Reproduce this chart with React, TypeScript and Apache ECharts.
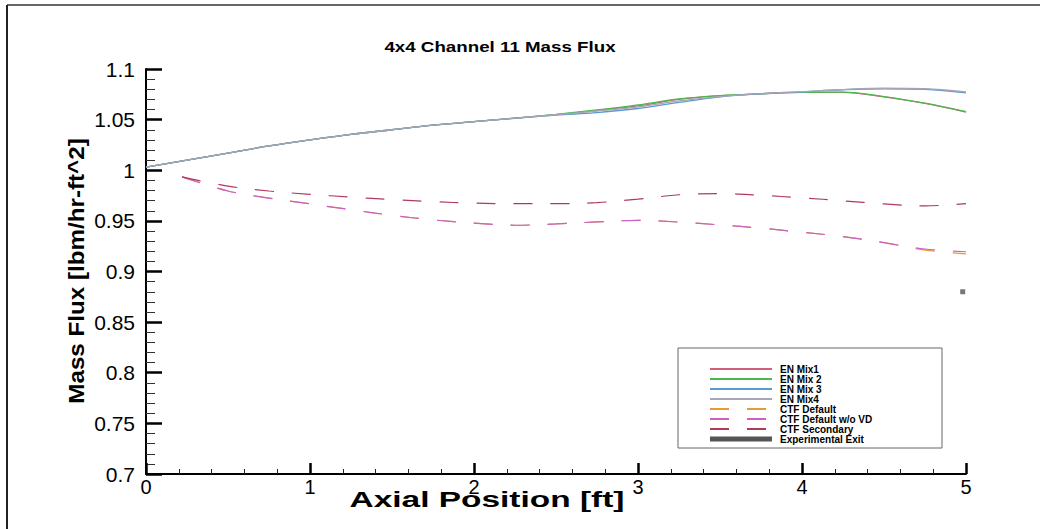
import React, { useEffect, useRef } from "react";
import * as echarts from "echarts";

const titleText = "4x4 Channel 11 Mass Flux";
const xName = "Axial Position [ft]";
const yName = "Mass Flux [lbm/hr-ft^2]";

const enX = [0, 0.25, 0.5, 0.75, 1, 1.25, 1.5, 1.75, 2, 2.25, 2.5, 2.75, 3, 3.25, 3.5, 3.75, 4, 4.25, 4.5, 4.75, 5];
const enMix1 = [1.003, 1.0100, 1.0170, 1.0240, 1.0300, 1.0355, 1.0400, 1.0445, 1.0480, 1.0515, 1.0550, 1.0590, 1.0635, 1.0700, 1.0735, 1.0755, 1.0770, 1.0770, 1.0725, 1.0660, 1.0575];
const enMix2 = [1.003, 1.0100, 1.0170, 1.0240, 1.0300, 1.0355, 1.0400, 1.0445, 1.0480, 1.0515, 1.0552, 1.0595, 1.0645, 1.0705, 1.0738, 1.0756, 1.0770, 1.0772, 1.0728, 1.0662, 1.0578];
const enMix3 = [1.003, 1.0100, 1.0170, 1.0240, 1.0300, 1.0355, 1.0400, 1.0445, 1.0480, 1.0513, 1.0545, 1.0570, 1.0610, 1.0670, 1.0725, 1.0755, 1.0775, 1.0795, 1.0805, 1.0800, 1.0765];
const enMix4 = [1.003, 1.0100, 1.0170, 1.0240, 1.0300, 1.0355, 1.0400, 1.0445, 1.0480, 1.0514, 1.0548, 1.0585, 1.0625, 1.0685, 1.0728, 1.0756, 1.0776, 1.0797, 1.0810, 1.0805, 1.0775];

const ctfX = [0.22, 0.5, 0.75, 1, 1.25, 1.5, 1.75, 2, 2.25, 2.5, 2.75, 3, 3.25, 3.5, 3.75, 4, 4.25, 4.5, 4.75, 5];
const ctfDefault = [0.9935, 0.9795, 0.9725, 0.9668, 0.9610, 0.9555, 0.9510, 0.9478, 0.9457, 0.9470, 0.9490, 0.9505, 0.9488, 0.9460, 0.9428, 0.9388, 0.9345, 0.9285, 0.9212, 0.9175];
const ctfNoVD = [0.9935, 0.9795, 0.9725, 0.9668, 0.9610, 0.9555, 0.9510, 0.9478, 0.9457, 0.9470, 0.9490, 0.9505, 0.9488, 0.9460, 0.9428, 0.9388, 0.9345, 0.9285, 0.9222, 0.9195];
const ctfSecondary = [0.9935, 0.9843, 0.9795, 0.9762, 0.9735, 0.9710, 0.9690, 0.9675, 0.9670, 0.9670, 0.9680, 0.9715, 0.9758, 0.9770, 0.9752, 0.9728, 0.9698, 0.9668, 0.9648, 0.9670];

const expX = [4.98];
const expY = [0.880];

const seriesNames = ["EN Mix1", "EN Mix 2", "EN Mix 3", "EN Mix4", "CTF Default", "CTF Default w/o VD", "CTF Secondary", "Experimental Exit"];
const yTicks = [0.7, 0.75, 0.8, 0.85, 0.9, 0.95, 1, 1.05, 1.1];
const xTicks = [0, 1, 2, 3, 4, 5];

const FONT = "'Liberation Sans', Arial, Helvetica, sans-serif";

function pairs(xs: number[], ys: number[]) {
  return xs.map((x, i) => [x, ys[i]]);
}

export default function App() {
  const ref = useRef<HTMLDivElement>(null);
  useEffect(() => {
    if (!ref.current) return;
    const chart = echarts.init(ref.current, null, { renderer: "svg" });
    const solid = (name: string, xs: number[], ys: number[], color: string) => ({
      name,
      type: "line",
      data: pairs(xs, ys),
      symbol: "none",
      showSymbol: false,
      smooth: 0.35,
      color,
      lineStyle: { color, width: 1.3 },
    });
    const dashed = (name: string, xs: number[], ys: number[], color: string) => ({
      name,
      type: "line",
      data: pairs(xs, ys),
      symbol: "none",
      showSymbol: false,
      smooth: 0.35,
      color,
      lineStyle: { color, width: 1.2, type: [19, 18] },
    });
    const option: any = {
      animation: false,
      backgroundColor: "#ffffff",
      grid: { left: 146, right: 88, top: 69, bottom: 55 },
      xAxis: {
        type: "value",
        min: xTicks[0],
        max: xTicks[xTicks.length - 1],
        interval: 1,
        axisLine: { show: true, lineStyle: { color: "#000", width: 2 } },
        axisTick: { show: true, inside: true, length: 11, lineStyle: { color: "#000", width: 2.5 } },
        minorTick: { show: true, splitNumber: 5, length: 5, lineStyle: { color: "#222", width: 1 } },
        splitLine: { show: false },
        axisLabel: { color: "#000", fontSize: 20, fontFamily: FONT, margin: 3 },
      },
      yAxis: {
        type: "value",
        min: yTicks[0],
        max: yTicks[yTicks.length - 1],
        interval: 0.05,
        axisLine: { show: true, lineStyle: { color: "#000", width: 2 } },
        axisTick: { show: true, inside: true, length: 16, lineStyle: { color: "#000", width: 2.5 } },
        minorTick: { show: true, splitNumber: 5, length: 9, lineStyle: { color: "#333", width: 1 } },
        splitLine: { show: false },
        axisLabel: {
          color: "#000",
          fontSize: 21,
          fontFamily: FONT,
          margin: 11,
          formatter: (v: number) => String(parseFloat(v.toFixed(2))),
        },
      },
      legend: {
        left: 704,
        top: 359,
        orient: "vertical",
        itemWidth: 62,
        itemHeight: 5,
        itemGap: 0,
        selectedMode: false,
        itemStyle: { opacity: 0 },
        textStyle: {
          fontSize: 10,
          fontWeight: "bold",
          color: "#000",
          fontFamily: FONT,
          padding: [0, 0, 0, 3],
        },
        data: seriesNames.map((n) =>
          n === "Experimental Exit" ? { name: n, icon: "rect", itemStyle: { opacity: 1, color: "#555" } } : { name: n }
        ),
      },
      graphic: [
        { type: "line", shape: { x1: 7, y1: 5, x2: 1040, y2: 5 }, style: { stroke: "#333", lineWidth: 1.5 } },
        { type: "line", shape: { x1: 7, y1: 5, x2: 7, y2: 529 }, style: { stroke: "#222", lineWidth: 2 } },
        {
          type: "rect",
          shape: { x: 678, y: 348, width: 264, height: 100 },
          style: { fill: "#fff", stroke: "#666", lineWidth: 1 },
        },
        {
          type: "text",
          x: 500,
          y: 47,
          scaleX: 1.25,
          style: {
            text: titleText,
            fontSize: 15,
            fontWeight: "bold",
            fontFamily: FONT,
            fill: "#000",
            textAlign: "center",
            textVerticalAlign: "middle",
          },
        },
        {
          type: "text",
          x: 487,
          y: 499,
          scaleX: 1.52,
          style: {
            text: xName,
            fontSize: 22,
            fontWeight: "bold",
            fontFamily: FONT,
            fill: "#000",
            textAlign: "center",
            textVerticalAlign: "middle",
          },
        },
        {
          type: "text",
          x: 76,
          y: 271,
          rotation: Math.PI / 2,
          scaleX: 1.1,
          style: {
            text: yName,
            fontSize: 22,
            fontWeight: "bold",
            fontFamily: FONT,
            fill: "#000",
            textAlign: "center",
            textVerticalAlign: "middle",
          },
        },
      ],
      series: [
        solid(seriesNames[0], enX, enMix1, "#d0607a"),
        solid(seriesNames[1], enX, enMix2, "#4cb84c"),
        solid(seriesNames[2], enX, enMix3, "#5a9ad0"),
        solid(seriesNames[3], enX, enMix4, "#a6a6b4"),
        dashed(seriesNames[4], ctfX, ctfDefault, "#e89a3a"),
        dashed(seriesNames[5], ctfX, ctfNoVD, "#c862c8"),
        dashed(seriesNames[6], ctfX, ctfSecondary, "#b03a5a"),
        {
          name: seriesNames[7],
          type: "scatter",
          data: pairs(expX, expY),
          symbol: "rect",
          symbolSize: 5,
          color: "#555",
          itemStyle: { color: "#555" },
        },
      ],
    };
    chart.setOption(option);
    return () => chart.dispose();
  }, []);
  return (
    <div
      ref={ref}
      style={{ position: "fixed", left: 0, top: 0, width: 1054, height: 529, background: "#fff" }}
    />
  );
}
